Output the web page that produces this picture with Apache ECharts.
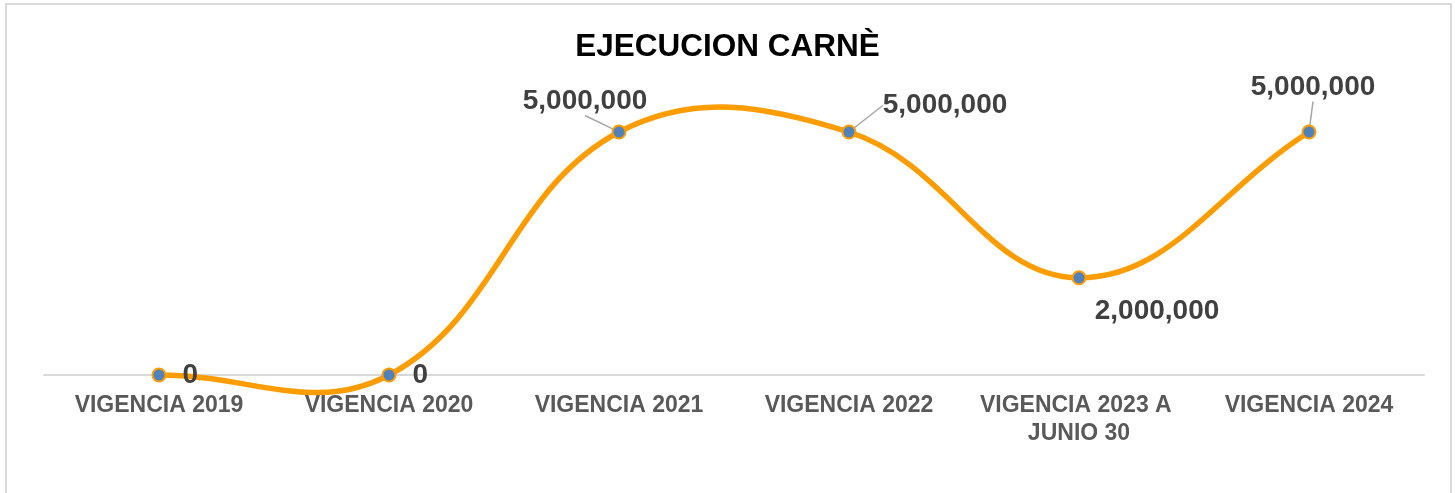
<!DOCTYPE html>
<html>
<head>
<meta charset="utf-8">
<script src="https://cdn.jsdelivr.net/npm/echarts@6/dist/echarts.min.js"></script>
<style>
  html, body { margin: 0; padding: 0; background: #fff; }
  #main { width: 1455px; height: 493px; }
  .frame {
    position: absolute; left: 5px; top: 3px; width: 1443px; height: 500px;
    border: 2px solid #d9d9d9; pointer-events: none;
  }
</style>
</head>
<body>
<div id="main"></div>
<div class="frame"></div>
<script>
const titleText = "EJECUCION CARNÈ";
const categories = [
  "VIGENCIA 2019",
  "VIGENCIA 2020",
  "VIGENCIA 2021",
  "VIGENCIA 2022",
  "VIGENCIA 2023 A JUNIO 30",
  "VIGENCIA 2024",
];
const values = [0, 0, 5000000, 5000000, 2000000, 5000000];

// where each value label sits relative to its point (dx, dy), and whether it gets a guide line
const labelMoves = [
  { dx: 0, dy: 0, line: false },
  { dx: 0, dy: 0, line: false },
  { dx: -34, dy: -4, line: true },
  { dx: 96, dy: 0, line: true },
  { dx: 78, dy: 7, line: false },
  { dx: 4, dy: -18, line: true },
];

const fmt = (v) => v.toLocaleString("en-US");

// spline like the spreadsheet one: control points are not clamped, so it overshoots
function splinePath(pts, s) {
  let d = "M" + pts[0][0] + " " + pts[0][1];
  const cps = pts.map((cur, i) => {
    const prev = pts[i - 1] || cur;
    const next = pts[i + 1] || cur;
    const vx = next[0] - prev[0];
    const vy = next[1] - prev[1];
    const lp = Math.hypot(cur[0] - prev[0], cur[1] - prev[1]);
    const ln = Math.hypot(next[0] - cur[0], next[1] - cur[1]);
    const r = lp + ln > 0 ? ln / (lp + ln) : 0.5;
    return {
      in: [cur[0] - vx * s * (1 - r), cur[1] - vy * s * (1 - r)],
      out: [cur[0] + vx * s * r, cur[1] + vy * s * r],
    };
  });
  for (let i = 0; i < pts.length - 1; i++) {
    const a = cps[i].out;
    const b = cps[i + 1].in;
    const p = pts[i + 1];
    d += " C" + a[0] + " " + a[1] + " " + b[0] + " " + b[1] + " " + p[0] + " " + p[1];
  }
  return d;
}

let chartDom = document.getElementById("main");
let chart = echarts.init(chartDom);

const seriesData = values.map((v, i) => {
  let item = { value: v, labelLine: { show: labelMoves[i].line } };
  if (i === 0 || i === 1) {
    item.label = { position: "right", distance: 16 };
  }
  if (i === 4) {
    item.label = { position: "bottom" };
  }
  return item;
});

let option = {
  title: {
    text: titleText,
    left: "center",
    top: 26,
    textStyle: {
      fontFamily: "Liberation Sans, Arial, sans-serif",
      fontSize: 31.5,
      fontWeight: "bold",
      color: "#000",
    },
  },
  grid: {
    left: 44,
    right: 31,
    top: 83.4,
    bottom: 118,
  },
  xAxis: {
    type: "category",
    data: categories,
    axisLine: { lineStyle: { color: "#d9d9d9", width: 2 } },
    axisTick: { show: false },
    axisLabel: {
      interval: 0,
      margin: 17,
      width: 210,
      overflow: "break",
      lineHeight: 28,
      fontFamily: "Liberation Sans, Arial, sans-serif",
      fontSize: 23,
      fontWeight: "bold",
      color: "#595959",
    },
  },
  yAxis: {
    type: "value",
    min: 0,
    max: 6000000,
    show: false,
    splitLine: { show: false },
  },
  series: [
    {
      type: "custom",
      data: [[0, 0]],
      clip: false,
      silent: true,
      z: 2,
      renderItem: (params, api) => {
        const pts = values.map((v, i) => api.coord([i, v]));
        return {
          type: "path",
          shape: { pathData: splinePath(pts, 0.4) },
          style: { fill: "none", stroke: "#ff9c00", lineWidth: 5.5, lineJoin: "round" },
        };
      },
    },
    {
      type: "line",
      data: seriesData,
      symbol: "circle",
      symbolSize: 13,
      lineStyle: { width: 0, opacity: 0 },
      itemStyle: { color: "#4f81bd", borderColor: "#ff9c00", borderWidth: 2 },
      label: {
        show: true,
        position: "top",
        formatter: (p) => fmt(p.value),
        fontFamily: "Liberation Sans, Arial, sans-serif",
        fontSize: 28,
        fontWeight: "bold",
        color: "#404040",
      },
      labelLine: {
        show: true,
        lineStyle: { color: "#a6a6a6", width: 1.5 },
      },
      labelLayout: (params) => {
        const m = labelMoves[params.dataIndex];
        return { dx: m.dx, dy: m.dy };
      },
      z: 3,
    },
  ],
};

option && chart.setOption(option);
</script>
</body>
</html>
